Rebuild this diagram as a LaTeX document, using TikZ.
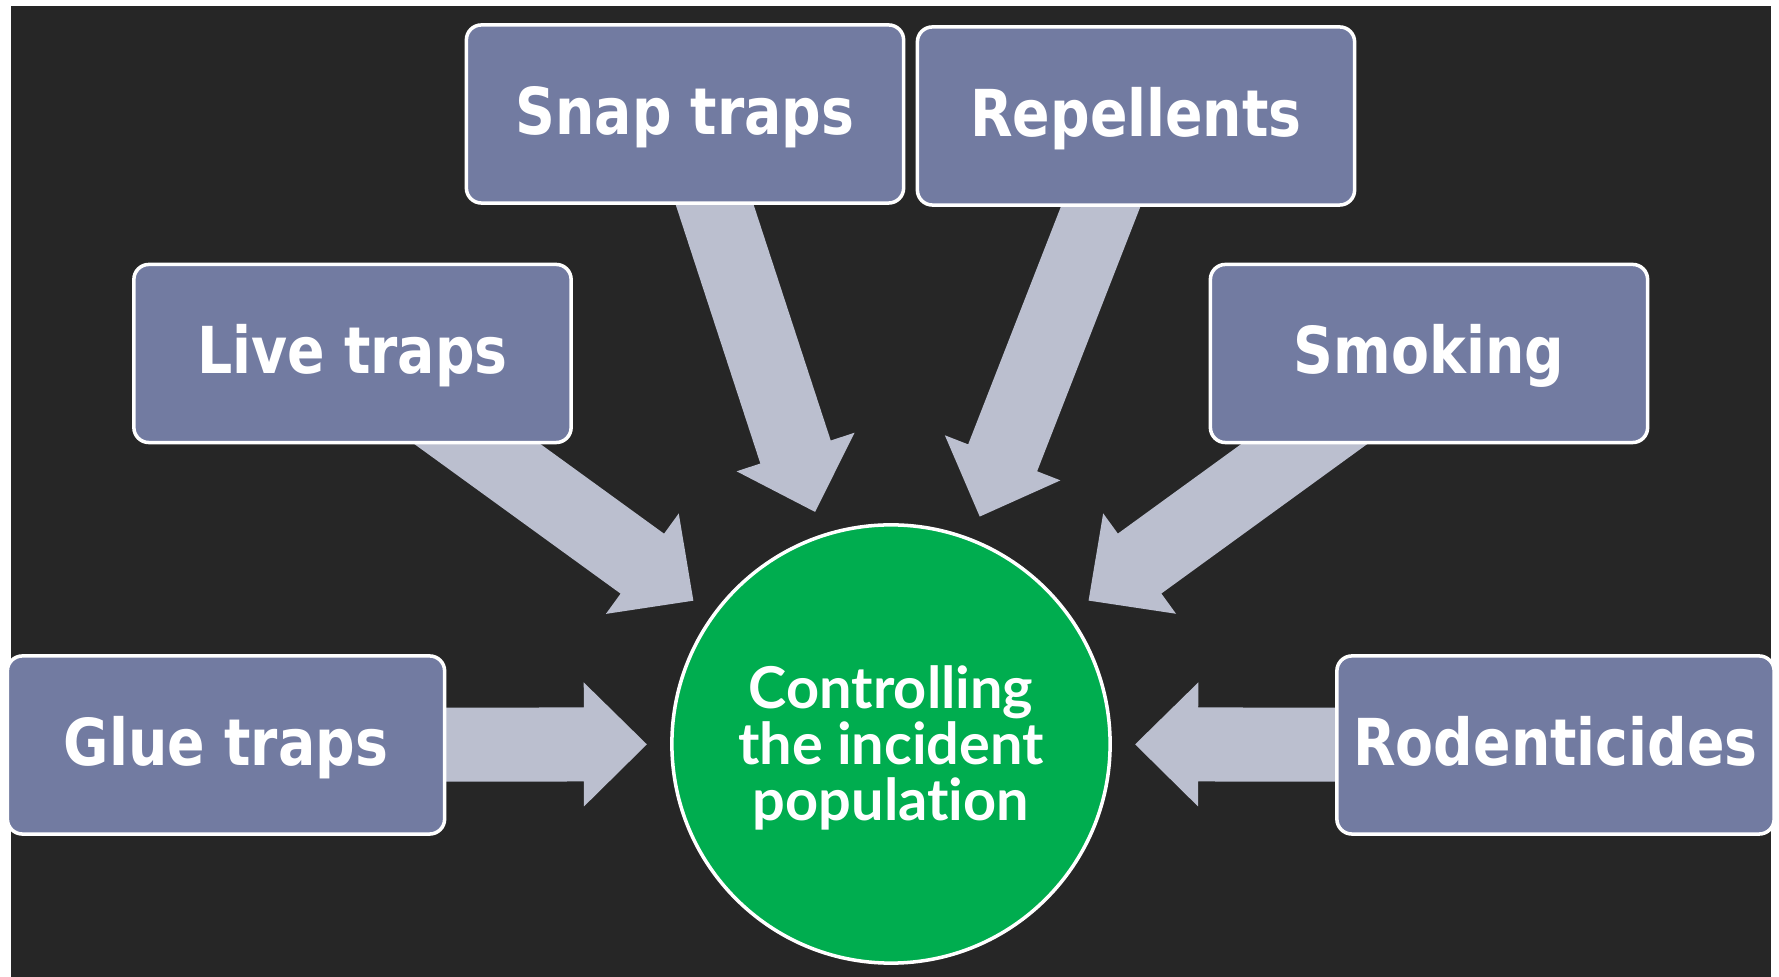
\documentclass[tikz,border=0pt]{standalone}
\usepackage{fontspec}
\usetikzlibrary{calc}
\newfontfamily\boxfont{DejaVu Sans Bold}[FakeStretch=0.855]
\newfontfamily\circfont{Lato Bold}[Ligatures=NoCommon]
\definecolor{bgdark}{HTML}{262626}
\definecolor{boxblue}{HTML}{727BA1}
\definecolor{arrowgray}{HTML}{BBBFCF}
\definecolor{hubgreen}{HTML}{00AD4F}
\pgfdeclarelayer{bg}
\pgfdeclarelayer{arr}
\pgfsetlayers{bg,arr,main}
\newcommand\blockarrow[1]{%
  \path ($(hub.center)!2.44cm!(#1.center)$) coordinate (#1-tip)
        ($(hub.center)!3.07cm!(#1.center)$) coordinate (#1-hb);
  \fill[blk] ($(#1.center)!0.37cm!90:(hub.center)$)
    -- ($(#1-hb)!0.37cm!90:(#1-tip)$)
    -- ($(#1-hb)!0.62cm!90:(#1-tip)$)
    -- (#1-tip)
    -- ($(#1-hb)!0.62cm!-90:(#1-tip)$)
    -- ($(#1-hb)!0.37cm!-90:(#1-tip)$)
    -- ($(#1.center)!0.37cm!-90:(hub.center)$) -- cycle;
}
\begin{document}
\begin{tikzpicture}[x=0.01cm,y=-0.01cm,
  box/.style={draw=white, line width=1pt, fill=boxblue, rounded corners=0.15cm,
    minimum width=4.37cm, minimum height=1.78cm, inner sep=0pt, text=white,
    text height=0.41cm, text depth=0pt,
    font=\boxfont\fontsize{18.4pt}{22pt}\selectfont},
  hub/.style={circle, draw=white, line width=1pt, fill=hubgreen, minimum size=4.38cm,
    inner sep=0pt},
  hubtxt/.style={text=white, align=center, inner sep=0pt,
    font=\circfont\fontsize{16.4pt}{15.9pt}\selectfont},
  blk/.style={fill=arrowgray}]
\useasboundingbox (0,0) rectangle (1779,977);
\begin{pgfonlayer}{bg}
  \fill[bgdark] (11,6) rectangle (1771,977);
\end{pgfonlayer}
\node[hub] (hub) at (891,744) {};
\node[hubtxt] (hubtext) at (891,748) {Controlling\\the incident\\population};
\node[box] (snap) at (685,114) {Snap traps};
\node[box] (repel) at (1136,116) {Repellents};
\node[box] (live) at (352.5,353.5) {Live traps};
\node[box] (smoke) at (1429,353.5) {Smoking};
\node[box] (glue) at (226,745) {Glue traps};
\node[box] (rodent) at (1555.5,745) {Rodenticides};
\begin{pgfonlayer}{arr}
  \blockarrow{snap}
  \blockarrow{repel}
  \blockarrow{live}
  \blockarrow{smoke}
  \blockarrow{glue}
  \blockarrow{rodent}
\end{pgfonlayer}
\end{tikzpicture}
\end{document}
